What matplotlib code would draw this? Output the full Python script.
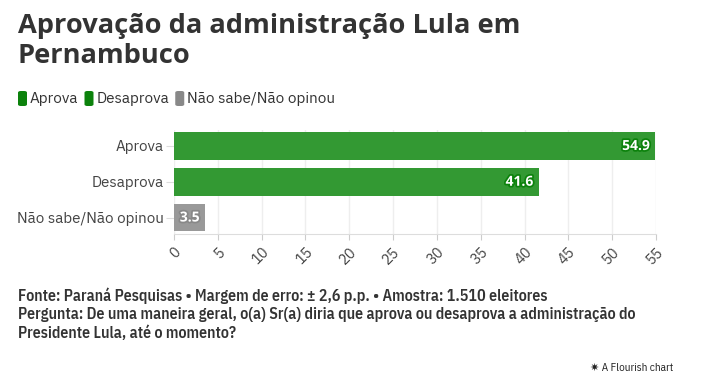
import matplotlib
matplotlib.use("Agg")
import matplotlib.pyplot as plt
from matplotlib.patches import FancyBboxPatch
import matplotlib.patheffects as pe

categories = ["Aprova", "Desaprova", "Não sabe/Não opinou"]
values = [54.9, 41.6, 3.5]
bar_colors = ["#339933", "#339933", "#999999"]
legend_colors = ["#0c820c", "#0c820c", "#888888"]
label_outline = ["#0c820c", "#0c820c", "#888888"]
xticks = list(range(0, 56, 5))

PS = ["IBM Plex Sans", "Open Sans", "DejaVu Sans"]
PC = ["IBM Plex Sans Condensed", "Roboto Condensed", "DejaVu Sans"]
OS = ["Open Sans", "DejaVu Sans"]

fig = plt.figure(figsize=(7.02, 3.87), dpi=100)
ax = fig.add_axes([174/702, 1-234/387, (656-174)/702, (234-129.5)/387])

ypos = list(range(len(categories)))
ax.barh(ypos, values, height=0.78, color=bar_colors, zorder=3)
ax.set_xlim(0, 55)
ax.set_ylim(2.46, -0.46)
ax.set_yticks(ypos)
ax.set_yticklabels(categories, fontsize=10.9, color="#444444", family=PS)
ax.set_xticks(xticks)
ax.set_xticklabels([str(t) for t in xticks], rotation=45, ha="right", rotation_mode="anchor",
                   fontsize=10.5, color="#444444", family=PS)
ax.tick_params(axis="y", length=6, color="#dddddd", pad=1.5)
ax.tick_params(axis="x", length=4, color="#cccccc", pad=4)
ax.grid(axis="x", color="#eeeeee", linewidth=1, zorder=0)
for s in ["top", "right", "left"]:
    ax.spines[s].set_visible(False)
ax.spines["bottom"].set_color("#dddddd")

for y, v, oc in zip(ypos, values, label_outline):
    ax.text(v - 0.6, y, f"{v}", ha="right", va="center", fontsize=10, fontweight="bold",
            color="white", family=OS, zorder=4,
            path_effects=[pe.withStroke(linewidth=2.5, foreground=oc)])

# Title
fig.text(18/702, 1-33/387, "Aprovação da administração Lula em", ha="left", va="baseline",
         fontsize=19.6, fontweight="bold", color="#333333", family=OS)
fig.text(18/702, 1-63/387, "Pernambuco", ha="left", va="baseline",
         fontsize=19.6, fontweight="bold", color="#333333", family=OS)

# Legend
x = 18
for name, col in zip(categories, legend_colors):
    box = FancyBboxPatch((x/702, 1-106/387), 9/702, 15/387,
                         boxstyle="round,pad=0,rounding_size=0.004", transform=fig.transFigure,
                         facecolor=col, edgecolor="none")
    fig.patches.append(box)
    t = fig.text((x+12)/702, 1-98.5/387, name, ha="left", va="center", fontsize=11,
                 color="#333333", family=PS)
    fig.canvas.draw()
    bb = t.get_window_extent()
    x = bb.x1 + 6

# Footer
foot = ["Fonte: Paraná Pesquisas • Margem de erro: ± 2,6 p.p. • Amostra: 1.510 eleitores",
        "Pergunta: De uma maneira geral, o(a) Sr(a) diria que aprova ou desaprova a administração do",
        "Presidente Lula, até o momento?"]
for line, yy in zip(foot, [296, 314, 333]):
    fig.text(18/702, 1-yy/387, line, ha="left", va="center", fontsize=11.4, fontweight="semibold",
             color="#333333", family=PC)
fig.text(673/702, 1-368/387, "✷ A Flourish chart", ha="right", va="center", fontsize=8,
         color="#222222", family=PC + ["DejaVu Sans"])

fig.savefig("out.png", dpi=100)
